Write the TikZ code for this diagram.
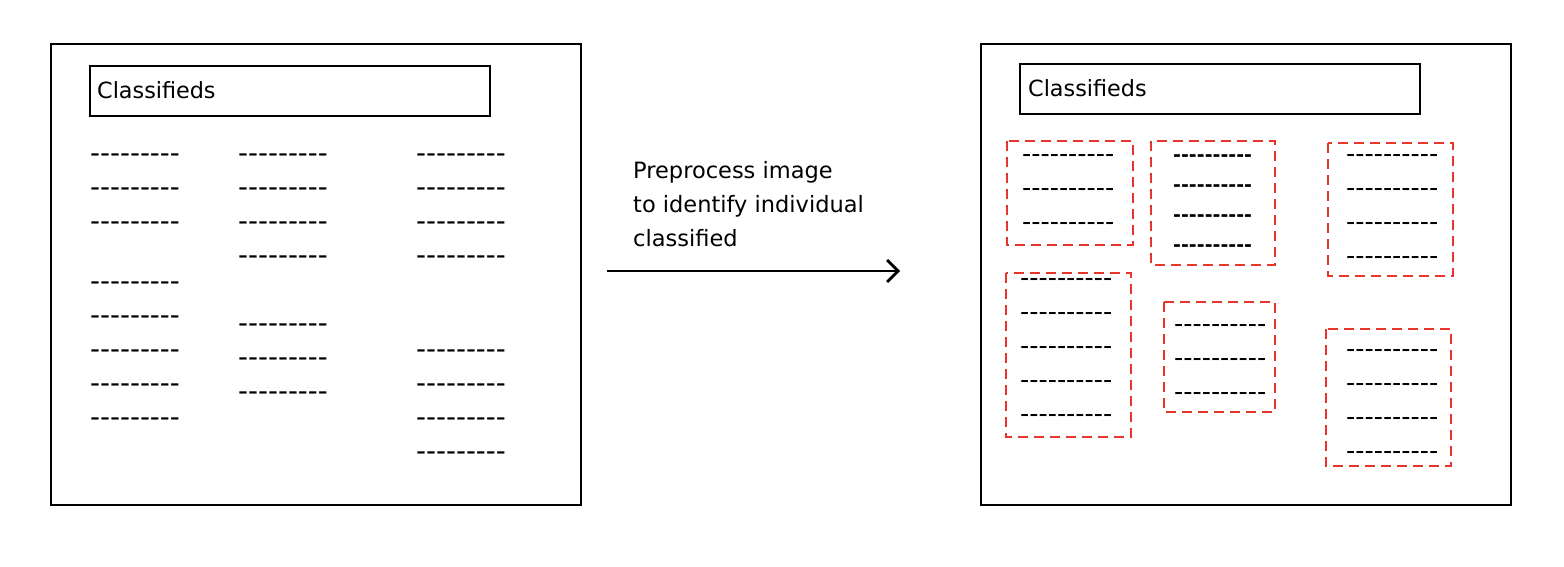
\documentclass[tikz,border=0pt]{standalone}
\usepackage{fontspec}
\setmainfont{DejaVu Sans}
\usetikzlibrary{arrows.meta}
\definecolor{boxred}{HTML}{E8342B}
\tikzset{
  frame/.style={draw=black, line width=2.2pt},
  titlebox/.style={draw=black, line width=2pt},
  redbox/.style={draw=boxred, line width=1.8pt, dash pattern=on 10pt off 6pt},
  titletext/.style={anchor=west, inner sep=0pt, font=\fontsize{22.3}{26}\selectfont},
  ldash/.style={anchor=base west, inner sep=0pt, yshift=-7.6pt, font=\fontsize{27.6}{28}\selectfont},
  rdash/.style={anchor=base west, inner sep=0pt, yshift=-7pt, font=\fontsize{25.5}{26}\selectfont},
  bdash/.style={anchor=base west, inner sep=0pt, yshift=-5.3pt, font=\bfseries\fontsize{19}{19}\selectfont},
}
\newcommand\dnine{-{}-{}-{}-{}-{}-{}-{}-{}-}
\newcommand\dten{-{}-{}-{}-{}-{}-{}-{}-{}-{}-}
\begin{document}
\begin{tikzpicture}[x=1pt,y=-1pt]
\useasboundingbox (0,0) rectangle (1564,566);
% left page
\draw[frame] (51,44) rectangle (581,505);
\draw[titlebox] (90,66) rectangle (490,116);
\node[titletext] (ltitle) at (97,90) {Classifieds};
\foreach \y [count=\i] in {155,189,223,283,317,351,385,419}
  \node[ldash] (la\i) at (90,\y) {\dnine};
\foreach \y [count=\i] in {155,189,223,257,325,359,393}
  \node[ldash] (lb\i) at (238,\y) {\dnine};
\foreach \y [count=\i] in {155,189,223,257,351,385,419,453}
  \node[ldash] (lc\i) at (416,\y) {\dnine};
% arrow
\coordinate (astart) at (607,271);
\coordinate (aend) at (900,271);
\draw[line width=2.8pt, -{Straight Barb[length=11pt,width=22pt,line width=2.8pt]}] (astart) -- (aend);
\node[anchor=west, inner sep=0pt, align=left, font=\fontsize{22.5}{34}\selectfont] (label) at (633,204)
  {Preprocess image\\to identify individual\\classified};
% right page
\draw[frame] (981,44) rectangle (1511,505);
\draw[titlebox] (1020,64) rectangle (1420,114);
\node[titletext] (rtitle) at (1028,88) {Classifieds};
\draw[redbox] (1007,141) rectangle (1133,245);
\draw[redbox] (1151,141) rectangle (1275,265);
\draw[redbox] (1328,143) rectangle (1453,276);
\draw[redbox] (1006,273) rectangle (1131,437);
\draw[redbox] (1164,302) rectangle (1275,412);
\draw[redbox] (1326,329) rectangle (1451,466);
\foreach \y [count=\i] in {155,189,223}
  \node[rdash] (ra\i) at (1022,\y) {\dten};
\foreach \y [count=\i] in {156,186,216,246}
  \node[bdash] (rb\i) at (1173,\y) {\dten};
\foreach \y [count=\i] in {155,189,223,257}
  \node[rdash] (rc\i) at (1346,\y) {\dten};
\foreach \y [count=\i] in {279,313,347,381,415}
  \node[rdash] (rd\i) at (1020,\y) {\dten};
\foreach \y [count=\i] in {325,359,393}
  \node[rdash] (re\i) at (1174,\y) {\dten};
\foreach \y [count=\i] in {350,384,418,452}
  \node[rdash] (rf\i) at (1346,\y) {\dten};
\end{tikzpicture}
\end{document}
